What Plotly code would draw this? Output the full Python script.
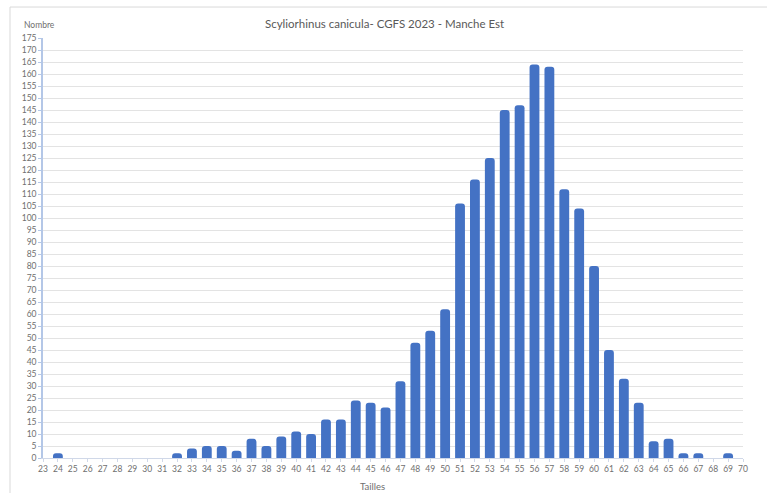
import plotly.graph_objects as go

# Length classes (cm) and number of individuals
tailles = list(range(24, 70))
nombre = [2, 0, 0, 0, 0, 0, 0, 0, 2, 4, 5, 5, 3, 8, 5, 9, 11, 10, 16, 16,
          24, 23, 21, 32, 48, 53, 62, 106, 116, 125, 145, 147, 164, 163,
          112, 104, 80, 45, 33, 23, 7, 8, 2, 2, 0, 2]

x_ticks = list(range(23, 71))
y_ticks = list(range(0, 176, 5))

title_text = "Scyliorhinus canicula- CGFS 2023 - Manche Est"
x_title = "Tailles"
y_title = "Nombre"

font_family = "Lato, Open Sans, Liberation Sans, sans-serif"
grey = "#6f6f6f"

fig = go.Figure()
fig.add_trace(go.Bar(
    x=tailles,
    y=nombre,
    width=0.66,
    marker=dict(color="#4472C4", line=dict(width=0), cornerradius=3),
    showlegend=False,
))

W, H = 773, 493
L, R, T, B = 43, 30, 38, 34.5
pw, ph = W - L - R, H - T - B

def px_x(p):
    return (p - L) / pw

def px_y(p):
    return (H - B - p) / ph

fig.update_layout(
    width=W, height=H,
    margin=dict(l=L, r=R, t=T, b=B, pad=0),
    paper_bgcolor="white",
    plot_bgcolor="white",
    bargap=0.3,
    font=dict(family=font_family, color=grey, size=8),
    xaxis=dict(
        range=[23, 70],
        tickmode="array", tickvals=x_ticks, ticktext=[str(v) for v in x_ticks],
        tickfont=dict(size=8.5, color=grey),
        showgrid=False, zeroline=False,
        showline=True, linecolor="#d0d8e8", linewidth=1,
        ticks="outside", ticklen=3, tickcolor="#d0d8e8",
        fixedrange=True,
    ),
    yaxis=dict(
        range=[0, 175],
        tickmode="array", tickvals=y_ticks, ticktext=[str(v) for v in y_ticks],
        tickfont=dict(size=8.5, color=grey),
        showgrid=True, gridcolor="#e3e3e3", gridwidth=1,
        zeroline=False,
        showline=True, linecolor="#b4c7e7", linewidth=1.5,
        ticks="outside", ticklen=3, tickcolor="#b4c7e7",
        fixedrange=True,
    ),
    annotations=[
        dict(text=title_text, xref="paper", yref="paper",
             x=px_x(384), y=px_y(23), xanchor="center", yanchor="middle",
             showarrow=False, font=dict(size=11.5, color="#595959", family=font_family)),
        dict(text=y_title, xref="paper", yref="paper",
             x=px_x(22), y=px_y(25), xanchor="left", yanchor="middle",
             showarrow=False, font=dict(size=8.5, color=grey, family=font_family)),
        dict(text=x_title, xref="paper", yref="paper",
             x=px_x(372), y=px_y(487), xanchor="center", yanchor="middle",
             showarrow=False, font=dict(size=9.5, color=grey, family=font_family)),
    ],
    shapes=[
        dict(type="line", xref="paper", yref="paper",
             x0=px_x(10), x1=px_x(767), y0=px_y(7), y1=px_y(7),
             line=dict(color="#d9d9d9", width=1)),
        dict(type="line", xref="paper", yref="paper",
             x0=px_x(10), x1=px_x(10), y0=px_y(7), y1=px_y(500),
             line=dict(color="#d9d9d9", width=1)),
    ],
)

fig.write_html("out.html")
